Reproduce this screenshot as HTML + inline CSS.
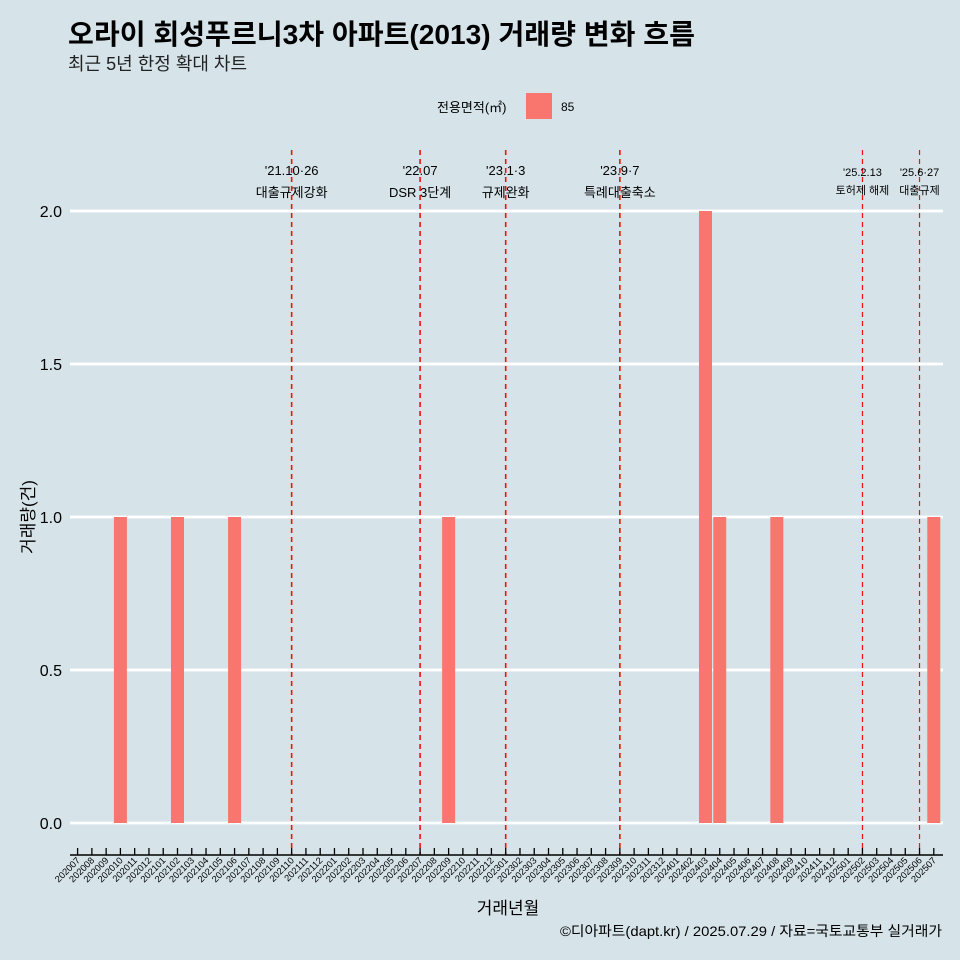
<!DOCTYPE html>
<html><head><meta charset="utf-8"><style>
body{margin:0;background:#d6e4ea;}
svg{display:block;font-family:"Liberation Sans","Noto Sans CJK KR",sans-serif;}
</style></head><body>
<svg id="c" width="960" height="960" viewBox="0 0 960 960">
<rect width="960" height="960" fill="#d6e4ea"/>
<text x="68" y="44" font-size="28" font-weight="bold" fill="#000" textLength="627" lengthAdjust="spacingAndGlyphs">오라이 회성푸르니3차 아파트(2013) 거래량 변화 흐름</text>
<text x="68" y="70" font-size="18" fill="#222">최근 5년 한정 확대 차트</text>
<g>
<text x="437" y="112" font-size="13">전용면적(㎡)</text>
<rect x="526" y="93" width="26" height="26" fill="#f8766d"/>
<text x="561" y="111" font-size="12">85</text>
</g>
<g id="grid"></g><g id="bars"></g><g id="events"></g><g id="xaxis"></g><g id="yaxis"></g>
<text x="508" y="914" font-size="17" text-anchor="middle">거래년월</text>
<text transform="translate(34,517) rotate(-90)" font-size="17" text-anchor="middle">거래량(건)</text>
<text x="942" y="936" font-size="14" text-anchor="end" textLength="382" lengthAdjust="spacingAndGlyphs">©디아파트(dapt.kr) / 2025.07.29 / 자료=국토교통부 실거래가</text>
</svg>
<script>
const months=[];for(let y=2020;y<=2025;y++)for(let m=1;m<=12;m++){const k=y*100+m;if(k>=202007&&k<=202507)months.push(String(k));}
const barMonths=["202010","202102","202106","202209","202403","202404","202408","202507"];
const barValues=[1,1,1,1,2,1,1,1];
const yTicks=[0,0.5,1,1.5,2];
const yTickLabels=["0.0","0.5","1.0","1.5","2.0"];
const eventMonths=["202110","202207","202301","202309","202502","202506"];
const eventDates=["'21.10·26","'22.07","'23.1·3","'23.9·7","'25.2.13","'25.6·27"];
const eventNames=["대출규제강화","DSR 3단계","규제완화","특례대출축소","토허제 해제","대출규제"];
const NS="http://www.w3.org/2000/svg";
function mk(t,a,p,txt){const e=document.createElementNS(NS,t);for(const k in a)e.setAttribute(k,a[k]);if(txt!=null)e.textContent=txt;document.getElementById(p).appendChild(e);return e;}
const X0=77.6,DX=14.27;
function xs(m){return X0+months.indexOf(m)*DX;}
function ys(v){return 823-v*306;}
yTicks.forEach((v,i)=>{
 let l=mk('line',{x1:70,x2:943,y1:ys(v),y2:ys(v),stroke:'#fff','stroke-width':2.8},'grid');
 
 
 let t=mk('text',{x:62,y:ys(v)+6,'font-size':16,'text-anchor':'end'},'yaxis',yTickLabels[i]);
 
 
});
barMonths.forEach((m,i)=>{
 const x=xs(m);
 let r=mk('rect',{x:x-6.5,y:ys(barValues[i]),width:13,height:ys(0)-ys(barValues[i]),fill:'#f8766d'},'bars');
 
 
});
eventMonths.forEach((m,i)=>{
 const x=xs(m);const small=i>=4;
 let l=mk('line',{x1:x,x2:x,y1:150,y2:855,stroke:'#ee1111','stroke-width':small?1.2:1.6,'stroke-dasharray':'5,4'},'events');
 
 
 const fs=small?11:13;
 let t1=mk('text',{x:x,y:small?176:175,'font-size':fs,'text-anchor':'middle'},'events',eventDates[i]);
 
 
 let t2=mk('text',{x:x,y:small?194:197,'font-size':fs,'text-anchor':'middle'},'events',eventNames[i]);
 
 
});
let ax=mk('line',{x1:70,x2:943,y1:855,y2:855,stroke:'#000','stroke-width':1.5},'xaxis');


months.forEach(m=>{
 const x=xs(m);
 let t=mk('line',{x1:x,x2:x,y1:848,y2:855,stroke:'#000','stroke-width':1.3},'xaxis');
 
 
 let lb=mk('text',{transform:`translate(${x+3},${861}) rotate(-45)`,'font-size':9.3,'text-anchor':'end'},'xaxis',m);
 
 
});
</script>
</body></html>
